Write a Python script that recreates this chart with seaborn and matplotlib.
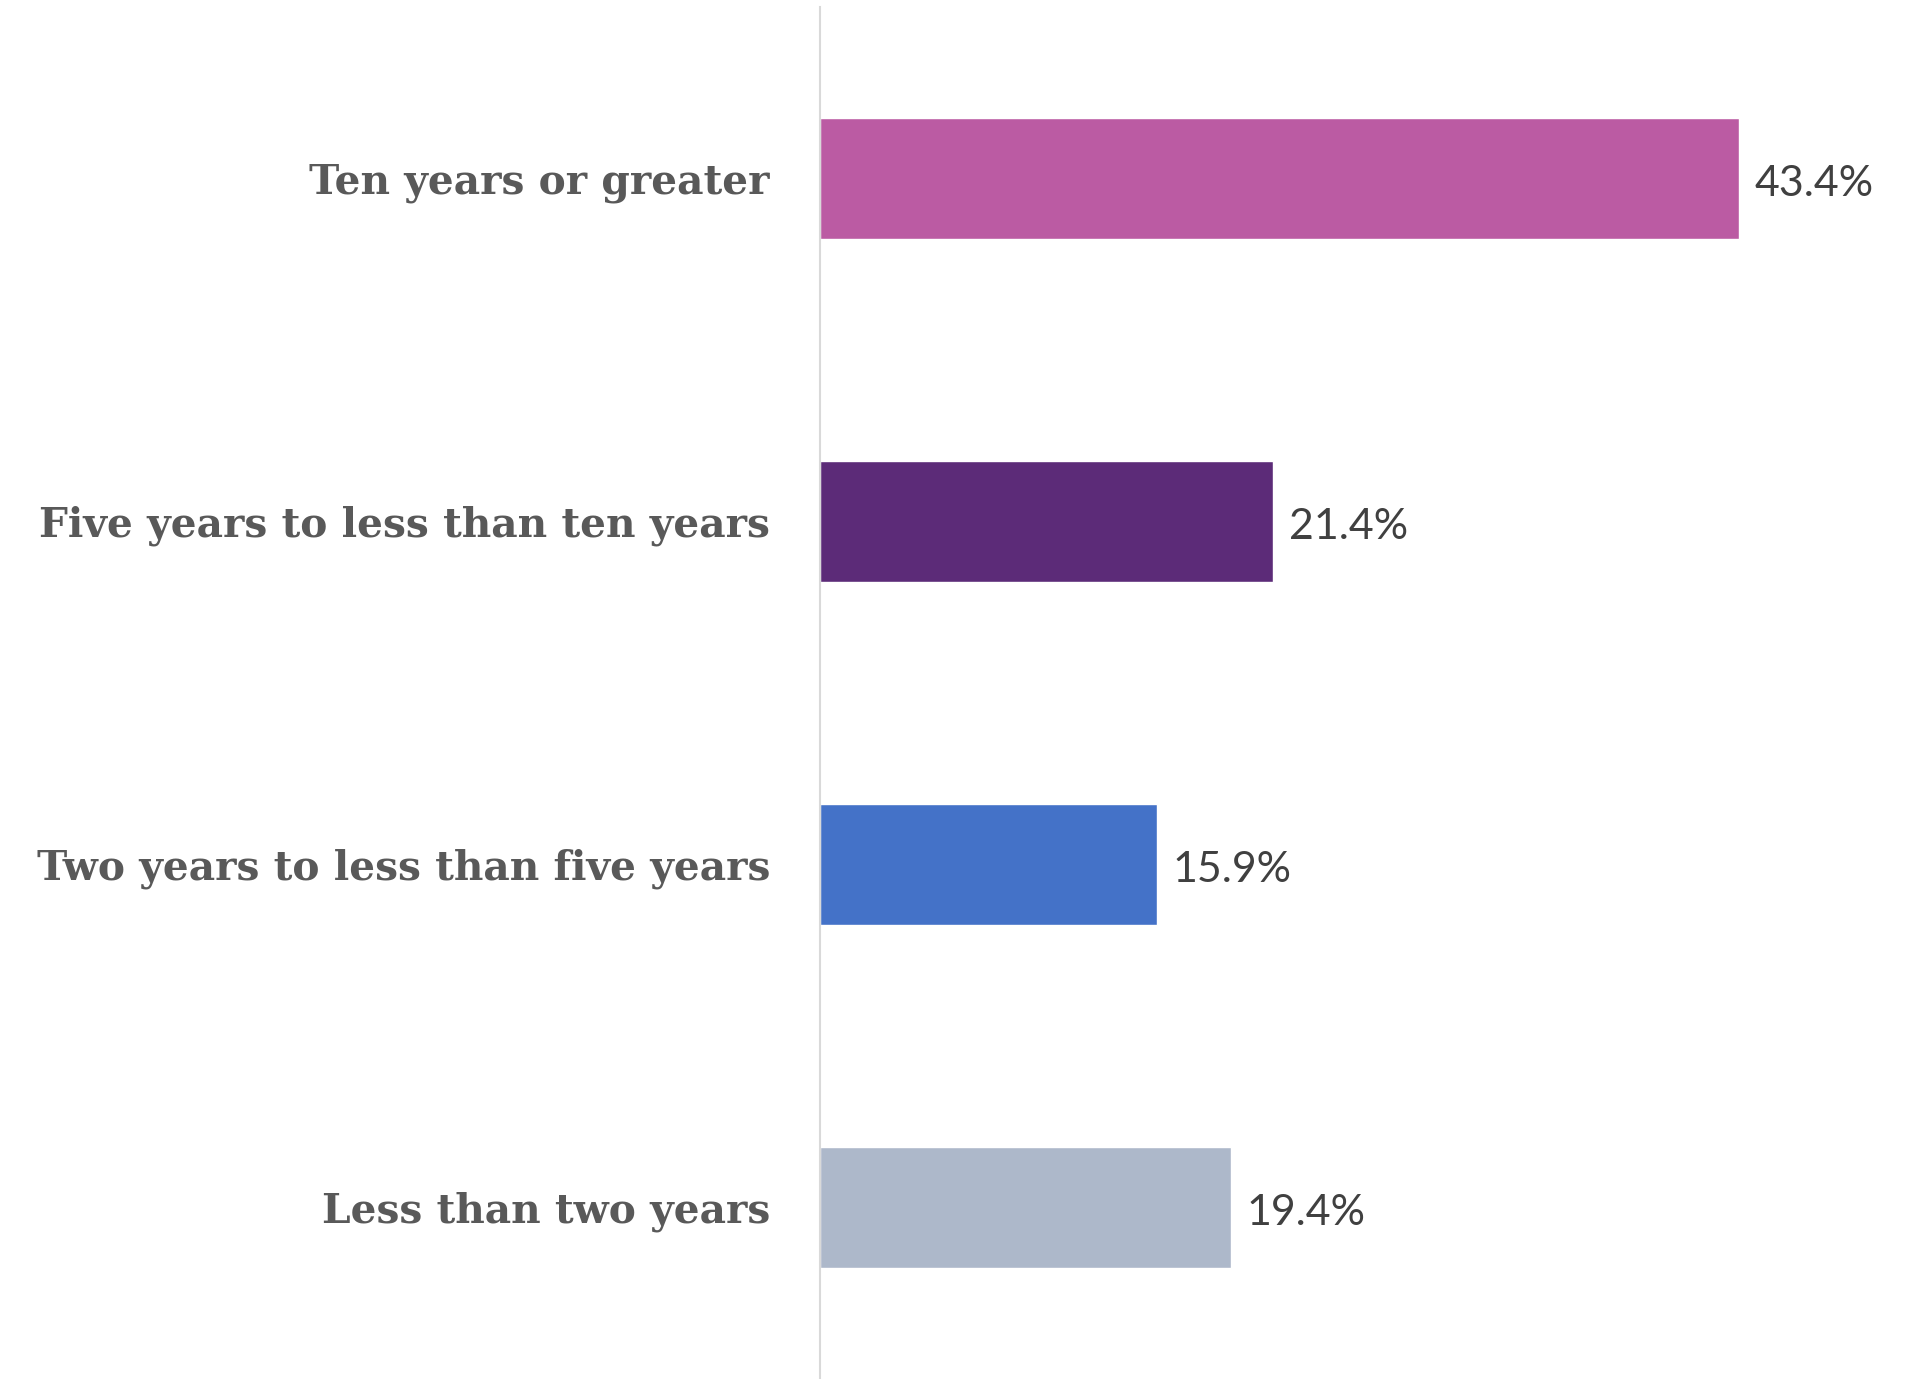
import matplotlib
matplotlib.use("Agg")
import matplotlib.pyplot as plt
import seaborn as sns
import pandas as pd

categories = ["Ten years or greater", "Five years to less than ten years",
              "Two years to less than five years", "Less than two years"]
values = [43.4, 21.4, 15.9, 19.4]
colors = ["#BB5BA3", "#5C2B78", "#4472C8", "#ADB8CA"]
value_labels = ["43.4%", "21.4%", "15.9%", "19.4%"]

df = pd.DataFrame({"category": categories, "value": values})

sns.set_theme(style="white")
plt.rcParams["font.family"] = ["DejaVu Sans"]

fig = plt.figure(figsize=(19.05, 13.79), dpi=100)
ax = fig.add_axes([0.4304, 0.0, 0.5696, 0.995])

sns.barplot(data=df, y="category", x="value", hue="category", order=categories,
            hue_order=categories, palette=colors, orient="h", width=0.353,
            dodge=False, legend=False, ax=ax, saturation=1)

ax.set_xlim(0, 51.25)
ax.set_ylim(3.5, -0.5)
ax.set_xlabel("")
ax.set_ylabel("")
ax.set_xticks([])
for s in ["top", "right", "bottom"]:
    ax.spines[s].set_visible(False)
ax.spines["left"].set_color("#D9D9D9")
ax.spines["left"].set_linewidth(1.5)

ax.tick_params(axis="y", length=0, pad=36)
for lbl in ax.get_yticklabels():
    lbl.set_fontfamily(["DejaVu Serif"])
    lbl.set_fontweight("bold")
    lbl.set_fontsize(29.3)
    lbl.set_color("#595959")

for cont in ax.containers:
    for bar in cont:
        w = bar.get_width()
        if w != w or w == 0:
            continue
        y = bar.get_y() + bar.get_height() / 2
        idx = int(round(y))
        ax.annotate(value_labels[idx], (w, y), xytext=(11.5, -4),
                    textcoords="offset points", va="center", ha="left",
                    fontsize=30.9, color="#404040", family=["Lato", "DejaVu Sans"])

fig.savefig("out.png", dpi=100, facecolor="white")
